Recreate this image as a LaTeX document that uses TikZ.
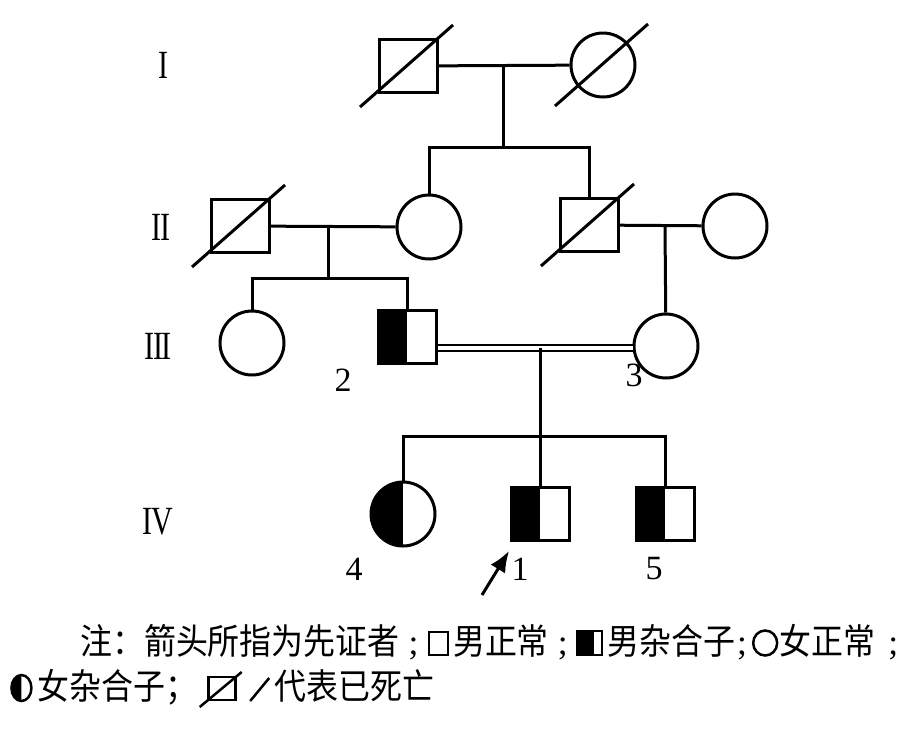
\documentclass[tikz,border=0pt]{standalone}
\usepackage{fontspec}
\setmainfont{Liberation Serif}
\newfontfamily\cjk[FakeStretch=0.9]{Noto Sans CJK SC}
\usetikzlibrary{arrows.meta}
\newcommand*{\SymMale}{\tikz[baseline=1pt, line width=2.5pt]\draw(0pt, 0pt)rectangle(19pt, 23pt);}
\newcommand*{\SymMaleCarrier}{\tikz[baseline=1pt, line width=2.5pt]{\fill(0pt, 0pt)rectangle(17pt, 24pt);\draw(0pt, 0pt)rectangle(25pt, 24pt);}}
\newcommand*{\SymFemale}{\tikz[baseline=1pt, line width=2.5pt]\draw(13pt, 12pt)ellipse[x radius=12pt, y radius=12.5pt];}
\newcommand*{\SymFemaleCarrier}{\tikz[baseline=1pt, line width=2.5pt]{\fill(11pt, -1pt)arc[start angle=-90, end angle=-270, x radius=10pt, y radius=13pt]--cycle;\draw(11pt, 12pt)ellipse[x radius=10pt, y radius=13pt];}}
\newcommand*{\SymDead}{\tikz[baseline=1pt, line width=2.5pt]{\draw(0pt, 0pt)rectangle(27pt, 23pt);\draw(-9pt, -7pt)--(33pt, 28pt);}}
\newcommand*{\SymSlash}{\tikz[baseline=1pt, line width=2.5pt]\draw(0pt, -1pt)--(19pt, 22pt);}

\begin{document}
\begin{tikzpicture}[x=1pt, y=-1pt, line width=3pt,
		male/.style={draw, rectangle, minimum width=58pt, minimum height=53pt, inner sep=0pt},
		female/.style={draw, circle, minimum size=64pt, inner sep=0pt},
		carrier/.style={path picture={\fill(path picture bounding box.south west)rectangle(path picture bounding box.north);}},
		gen/.style={font=\fontsize{40}{40}\selectfont, inner sep=0pt},
		num/.style={font=\fontsize{34}{34}\selectfont, inner sep=0pt},
		legend/.style={font=\fontsize{35.5}{36}\selectfont, inner sep=0pt, anchor=base west}]
	\useasboundingbox(0, 0)rectangle(921, 732);
	% generations
	\node[gen](gI)at(163, 65){\scalebox{0.75}[1]{I}};
	\node[gen](gII)at(161, 227){\scalebox{0.75}[1]{I\kern-1.5ptI}};
	\node[gen](gIII)at(158, 346){\scalebox{0.75}[1]{I\kern-1.5ptI\kern-1.5ptI}};
	\node[gen](gIV)at(158, 522){\scalebox{0.75}[1]{I\kern-2ptV}};
	% I
	\node[male](I1)at(408, 66){};
	\node[female](I2)at(603, 65){};
	\coordinate(m1)at(503, 65);
	\coordinate(s1)at(503, 147);
	\draw(I1)--(I2);
	\draw(m1)--(s1);
	% II
	\node[male](II1)at(240, 226){};
	\node[female](II2)at(429, 227){};
	\node[male](II3)at(589, 225){};
	\node[female](II4)at(735, 226){};
	\draw(II2.north)|-(s1)-|(II3.north);
	\coordinate(m2)at(328, 227);
	\coordinate(s2)at(328, 278);
	\coordinate(m3)at(665, 226);
	\draw(II1)--(II2);
	\draw(II3)--(II4);
	\draw(m2)--(s2);
	% III
	\node[female](III1)at(252, 343){};
	\node[male, carrier](III2)at(407, 337){};
	\node[female](III3)at(666, 346){};
	\draw(III1.north)|-(s2)-|(III2.north);
	\draw(m3)--(III3);
	\coordinate(m4)at(540, 348);
	\coordinate(s4)at(540, 436);
	\draw[double, double distance=3.5pt, line width=2pt](III2.east|-m4)--(III3.west|-m4);
	\draw(m4)--(s4);
	% IV
	\node[female, carrier](IV4)at(403, 514){};
	\node[male, carrier](IV1)at(540, 514){};
	\node[male, carrier](IV5)at(665, 514){};
	\draw(IV4.north)|-(s4)-|(IV5.north);
	\draw(s4)--(IV1);
	% deceased
	\foreach \p in {I1, I2, II1, II3}
		\draw([shift={(-48, 41)}]\p.center)--([shift={(45, -41)}]\p.center);
	% numbers
	\node[num](n2)at(343, 380){2};
	\node[num](n3)at(634, 375){3};
	\node[num](n4)at(354, 569){4};
	\node[num](n1)at(520, 569){1};
	\node[num](n5)at(654, 569){5};
	\coordinate(tail)at(482, 595);
	\coordinate(tip)at(509, 551);
	\draw[-{Latex[length=21pt, width=17pt]}](tail)--(tip);
	% legend
	\node[legend](note1)at(80, 654){{\cjk 注：箭头所指为先证者}\hspace{9pt};\hspace{9pt}\SymMale\hspace{4pt}{\cjk 男正常}\hspace{9pt};\hspace{8pt}\SymMaleCarrier\hspace{4pt}{\cjk 男杂合子}\hspace{2pt};\hspace{5pt}\SymFemale\hspace{1pt}{\cjk 女正常}\hspace{13pt};};
	\node[legend](note2)at(10, 699){\SymFemaleCarrier\hspace{5pt}{\cjk 女杂合子；}\hspace{1pt}\SymDead\hspace{6pt}\SymSlash\hspace{4pt}{\cjk 代表已死亡}};
\end{tikzpicture}
\end{document}
